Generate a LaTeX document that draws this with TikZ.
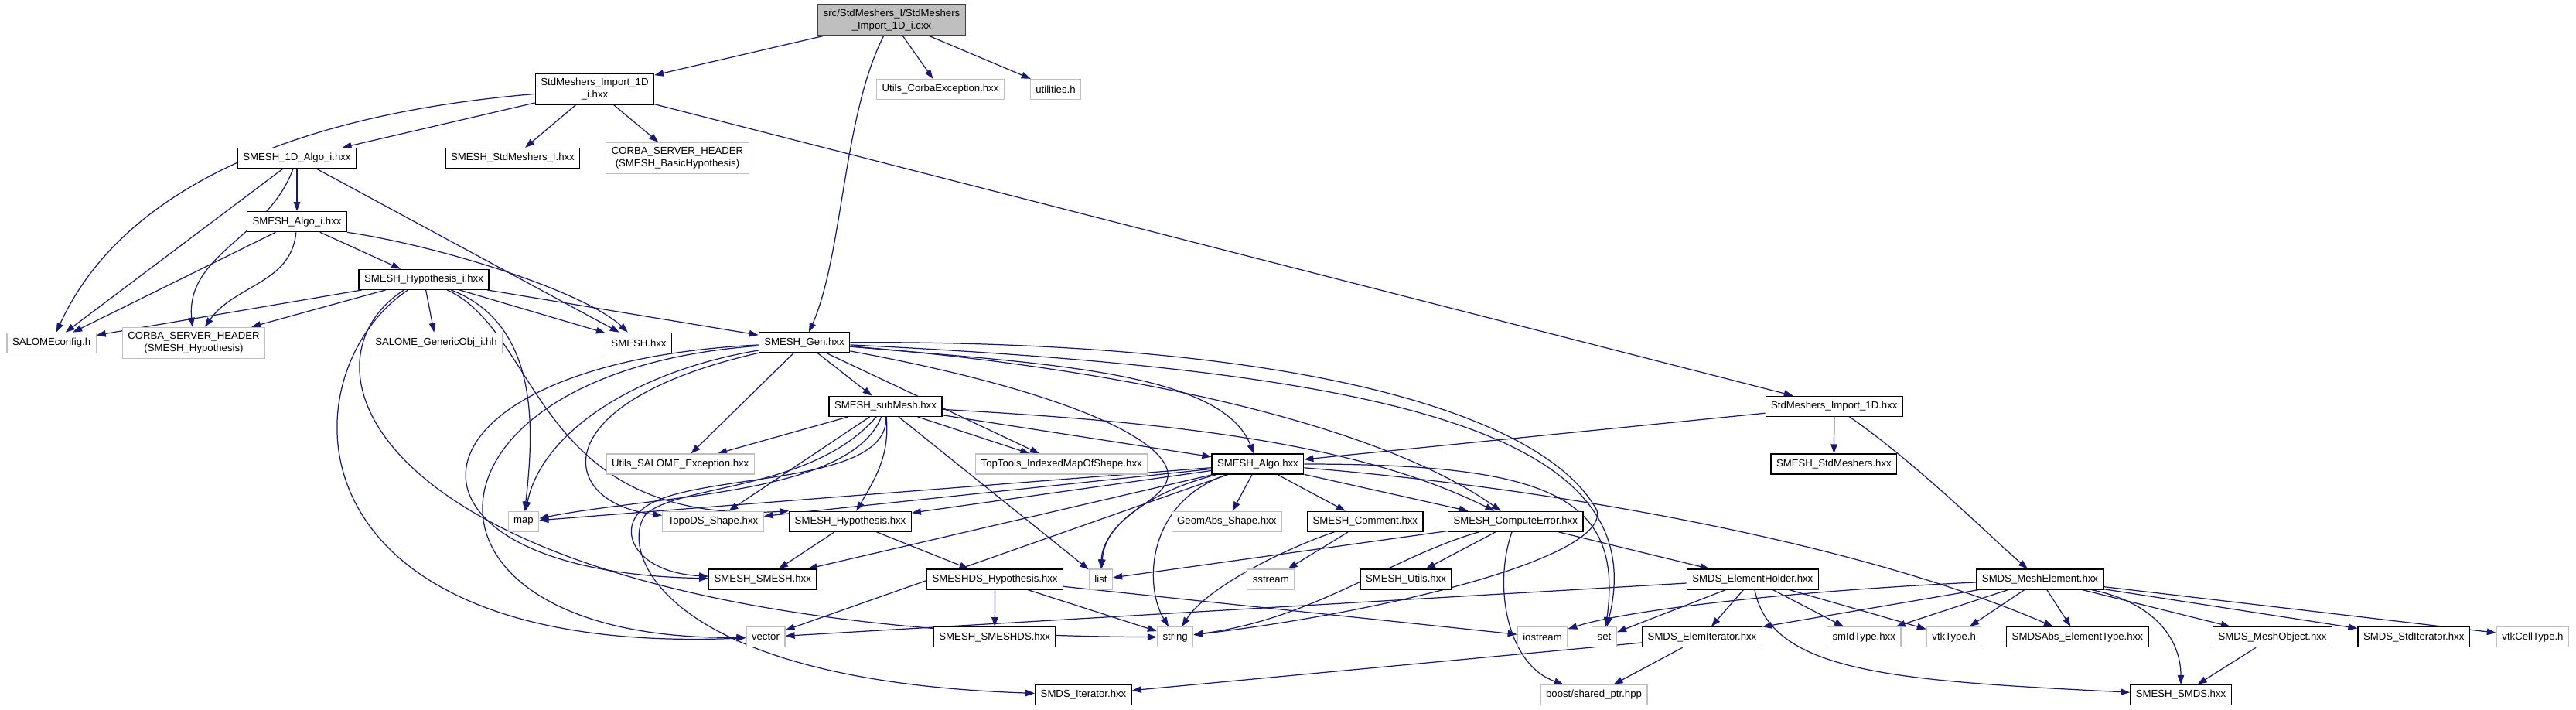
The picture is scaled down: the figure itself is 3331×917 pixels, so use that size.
\documentclass[tikz,border=0pt]{standalone}
\usepackage{fontspec}
\setmainfont{Liberation Sans}
\usepackage{tikz}
\usetikzlibrary{arrows.meta, backgrounds}

\definecolor{edgeblue}{HTML}{191970}
\definecolor{extgray}{HTML}{BFBFBF}

\begin{document}
\begin{tikzpicture}[
        x=0.02cm, y=-0.02cm,
        hdr/.style={
            draw=black,
            line width=0.7pt,
            fill=white,
            align=center,
            inner xsep=4pt,
            inner ysep=0pt,
            minimum height=0.52cm,
            font=\fontsize{7.5}{9}\selectfont
        },
        ext/.style={hdr, draw=extgray},
        srcfile/.style={hdr, draw=black!75, fill=extgray, minimum height=0.8cm},
        twoline/.style={minimum height=0.8cm},
        inc/.style={-{Triangle[length=0.24cm,width=0.17cm]}, draw=edgeblue, line width=0.7pt}
    ]
        \useasboundingbox (0,0) rectangle (3331,917);

        % top levels
        \node[srcfile] (root) at (1153,26) {src/StdMeshers\_I/StdMeshers\\\_Import\_1D\_i.cxx};
        \node[hdr, twoline] (imp1di) at (769,115) {StdMeshers\_Import\_1D\\\_i.hxx};
        \node[ext] (utilscorba) at (1216,115.5) {Utils\_CorbaException.hxx};
        \node[ext] (utilities) at (1365,115.5) {utilities.h};
        \node[hdr] (algo1di) at (384,204.5) {SMESH\_1D\_Algo\_i.hxx};
        \node[hdr] (stdmi) at (663,204.5) {SMESH\_StdMeshers\_I.hxx};
        \node[ext, twoline] (corbabasic) at (876,204.5) {CORBA\_SERVER\_HEADER\\(SMESH\_BasicHypothesis)};
        \node[hdr] (algoi) at (384,286.7) {SMESH\_Algo\_i.hxx};
        \node[hdr] (hypi) at (548,361.3) {SMESH\_Hypothesis\_i.hxx};

        \node[ext] (salomecfg) at (66.6,443.3) {SALOMEconfig.h};
        \node[ext, twoline] (corbahyp) at (250.5,443.3) {CORBA\_SERVER\_HEADER\\(SMESH\_Hypothesis)};
        \node[ext] (genobj) at (564,443.3) {SALOME\_GenericObj\_i.hh};
        \node[hdr] (smesh) at (826,443.3) {SMESH.hxx};
        \node[hdr] (gen) at (1040,443) {SMESH\_Gen.hxx};

        % middle levels
        \node[hdr] (submesh) at (1145,525.3) {SMESH\_subMesh.hxx};
        \node[hdr] (imp1d) at (2371.8,525.3) {StdMeshers\_Import\_1D.hxx};
        \node[ext] (utilssalome) at (879.7,600) {Utils\_SALOME\_Exception.hxx};
        \node[ext] (toptools) at (1372.7,600) {TopTools\_IndexedMapOfShape.hxx};
        \node[hdr] (algo) at (1626.4,600) {SMESH\_Algo.hxx};
        \node[hdr] (stdmeshers) at (2371.4,600) {SMESH\_StdMeshers.hxx};

        \node[ext] (map) at (677,674.3) {map};
        \node[ext] (topods) at (922,674.3) {TopoDS\_Shape.hxx};
        \node[hdr] (hyp) at (1099.5,674.3) {SMESH\_Hypothesis.hxx};
        \node[ext] (geomabs) at (1586.3,674.3) {GeomAbs\_Shape.hxx};
        \node[hdr] (comment) at (1765.3,674.3) {SMESH\_Comment.hxx};
        \node[hdr] (computeerr) at (1959.7,674.3) {SMESH\_ComputeError.hxx};

        \node[hdr] (smeshsmesh) at (986.3,749) {SMESH\_SMESH.hxx};
        \node[hdr] (dshyp) at (1286.6,749) {SMESHDS\_Hypothesis.hxx};
        \node[ext] (list) at (1423.5,749) {list};
        \node[ext] (sstream) at (1643.3,749) {sstream};
        \node[hdr] (utils) at (1818,749) {SMESH\_Utils.hxx};
        \node[hdr] (elemholder) at (2266.3,749) {SMDS\_ElementHolder.hxx};
        \node[hdr] (meshelem) at (2638,749) {SMDS\_MeshElement.hxx};

        % bottom levels
        \node[ext] (vector) at (990,823.7) {vector};
        \node[hdr] (smeshds) at (1286.2,823.7) {SMESH\_SMESHDS.hxx};
        \node[ext] (string) at (1519.6,823.7) {string};
        \node[ext] (iostream) at (1994.5,823.7) {iostream};
        \node[ext] (set) at (2074.5,823.7) {set};
        \node[hdr] (elemiter) at (2201,823.7) {SMDS\_ElemIterator.hxx};
        \node[ext] (smidtype) at (2410.2,823.7) {smIdType.hxx};
        \node[ext] (vtktype) at (2526.6,823.7) {vtkType.h};
        \node[hdr] (smdsabs) at (2686.3,823.7) {SMDSAbs\_ElementType.hxx};
        \node[hdr] (meshobj) at (2938.6,823.7) {SMDS\_MeshObject.hxx};
        \node[hdr] (stditer) at (3121.2,823.7) {SMDS\_StdIterator.hxx};
        \node[ext] (vtkcell) at (3275,823.7) {vtkCellType.h};
        \node[hdr] (iterator) at (1401,898.5) {SMDS\_Iterator.hxx};
        \node[ext] (sharedptr) at (2061,898.5) {boost/shared\_ptr.hpp};
        \node[hdr] (smds) at (2820,898.5) {SMESH\_SMDS.hxx};

        \begin{scope}[on background layer]
        % includes of the source file
        \draw[inc] (root) -- (imp1di);
        \draw[inc] (root) -- (utilscorba);
        \draw[inc] (root) -- (utilities);
        \draw[inc] (root) .. controls (1090,150) and (1090,330) .. (gen);

        \draw[inc] (imp1di) .. controls (350,150) and (150,260) .. (salomecfg);
        \draw[inc] (imp1di) -- (algo1di);
        \draw[inc] (imp1di) -- (stdmi);
        \draw[inc] (imp1di) -- (corbabasic);
        \draw[inc] (imp1di) -- (imp1d);

        \draw[inc] (algo1di) -- (algoi);
        \draw[inc] (algo1di) -- (salomecfg);
        \draw[inc] (algo1di) to[out=-110,in=95] (corbahyp);
        \draw[inc] (algo1di) -- (smesh);

        \draw[inc] (algoi) -- (salomecfg);
        \draw[inc] (algoi) to[out=-95,in=55] (corbahyp);
        \draw[inc] (algoi) -- (hypi);
        \draw[inc] (algoi.south east) .. controls (580,320) and (760,380) .. (smesh);

        \draw[inc] (hypi) -- (salomecfg);
        \draw[inc] (hypi) -- (corbahyp);
        \draw[inc] (hypi) -- (genobj);
        \draw[inc] (hypi) -- (smesh);
        \draw[inc] (hypi) -- (gen);
        \draw[inc] (hypi) .. controls (700,420) and (690,560) .. (map);
        \draw[inc] (hypi) .. controls (700,430) and (690,680) .. (hyp.north west);
        \draw[inc] (hypi) .. controls (370,480) and (360,850) .. (vector);
        \draw[inc] (hypi.-152) .. controls (360,480) and (500,820) .. (string);

        % SMESH_Gen.hxx
        \draw[inc] (gen) -- (utilssalome);
        \draw[inc] (gen) -- (submesh);
        \draw[inc] (gen) -- (toptools);
        \draw[inc] (gen) .. controls (820,480) and (700,560) .. (map);
        \draw[inc] (gen) .. controls (700,520) and (720,650) .. (topods);
        \draw[inc] (gen) .. controls (500,470) and (480,740) .. (smeshsmesh);
        \draw[inc] (gen) .. controls (520,480) and (500,830) .. (vector);
        \draw[inc] (gen) .. controls (1350,470) and (1580,480) .. (algo);
        \draw[inc] (gen) .. controls (1500,480) and (1800,560) .. (computeerr);
        \draw[inc] (gen) .. controls (1350,500) and (1500,560) .. (1510,610)
            .. controls (1515,650) and (1430,660) .. (list);
        \draw[inc] (gen) .. controls (1800,480) and (2140,560) .. (set);
        \draw[inc] (gen) .. controls (1700,440) and (2000,540) .. (2065,660)
            .. controls (2080,720) and (1800,790) .. (string);

        % SMESH_subMesh.hxx
        \draw[inc] (submesh) -- (utilssalome);
        \draw[inc] (submesh) -- (toptools);
        \draw[inc] (submesh) -- (algo);
        \draw[inc] (submesh) -- (list);
        \draw[inc] (submesh) .. controls (1500,545) and (1750,570) .. (computeerr);
        \draw[inc] (submesh) .. controls (1100,640) and (850,640) .. (map);
        \draw[inc] (submesh) -- (topods);
        \draw[inc] (submesh) to[out=-85,in=60] (hyp);
        \draw[inc] (submesh) .. controls (1150,630) and (900,610) .. (835,655)
            .. controls (795,683) and (820,740) .. (smeshsmesh);
        \draw[inc] (submesh) .. controls (1050,635) and (880,625) .. (835,665)
            .. controls (800,710) and (850,880) .. (iterator);

        % SMESH_Algo.hxx
        \draw[inc] (algo) -- (map);
        \draw[inc] (algo) -- (topods);
        \draw[inc] (algo) -- (hyp);
        \draw[inc] (algo) -- (smeshsmesh);
        \draw[inc] (algo) -- (vector);
        \draw[inc] (algo) .. controls (1470,640) and (1425,690) .. (list);
        \draw[inc] (algo) .. controls (1480,650) and (1480,760) .. (string);
        \draw[inc] (algo) -- (geomabs);
        \draw[inc] (algo) -- (comment);
        \draw[inc] (algo) -- (computeerr);
        \draw[inc] (algo) .. controls (2000,600) and (2100,640) .. (set);
        \draw[inc] (algo) .. controls (2000,630) and (2400,700) .. (smdsabs);

        \draw[inc] (hyp) -- (smeshsmesh);
        \draw[inc] (hyp) -- (dshyp);
        \draw[inc] (dshyp) -- (smeshds);
        \draw[inc] (dshyp) -- (string);
        \draw[inc] (dshyp) -- (iostream);

        \draw[inc] (comment) .. controls (1660,710) and (1560,760) .. (string);
        \draw[inc] (comment) -- (sstream);

        \draw[inc] (computeerr) -- (list);
        \draw[inc] (computeerr) .. controls (1800,720) and (1700,800) .. (string);
        \draw[inc] (computeerr) -- (utils);
        \draw[inc] (computeerr) .. controls (1930,760) and (1950,860) .. (sharedptr);
        \draw[inc] (computeerr) -- (elemholder);

        % SMDS part
        \draw[inc] (elemholder) -- (vector);
        \draw[inc] (elemholder) -- (set);
        \draw[inc] (elemholder) -- (elemiter);
        \draw[inc] (elemholder) -- (smidtype);
        \draw[inc] (elemholder) -- (vtktype);
        \draw[inc] (elemholder) .. controls (2290,870) and (2450,880) .. (smds);

        \draw[inc] (meshelem) .. controls (2300,765) and (2100,790) .. (iostream);
        \draw[inc] (meshelem) -- (elemiter);
        \draw[inc] (meshelem) -- (smidtype);
        \draw[inc] (meshelem) -- (vtktype);
        \draw[inc] (meshelem) -- (smdsabs);
        \draw[inc] (meshelem) -- (meshobj);
        \draw[inc] (meshelem) .. controls (2790,780) and (2820,830) .. (smds);
        \draw[inc] (meshelem) -- (stditer);
        \draw[inc] (meshelem) -- (vtkcell);

        \draw[inc] (meshobj) -- (smds);
        \draw[inc] (elemiter) -- (iterator);
        \draw[inc] (elemiter) -- (sharedptr);

        \draw[inc] (imp1d) -- (stdmeshers);
        \draw[inc] (imp1d) .. controls (2480,600) and (2580,700) .. (meshelem);
        \draw[inc] (imp1d) -- (algo);
        \end{scope}
    \end{tikzpicture}
\end{document}
